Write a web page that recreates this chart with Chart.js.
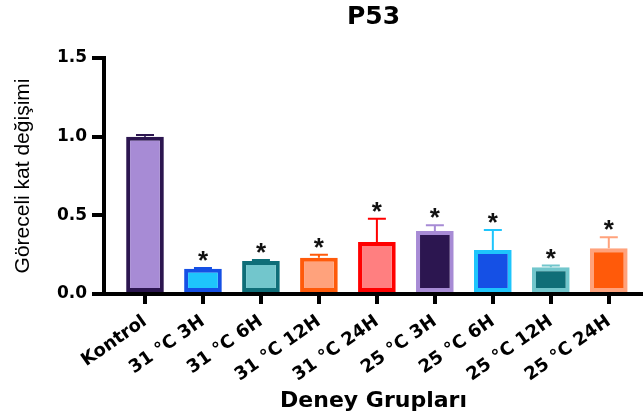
<!DOCTYPE html>
<html>
<head>
<meta charset="utf-8">
<script src="https://cdn.jsdelivr.net/npm/chart.js"></script>
<style>
  html, body { margin: 0; padding: 0; background: #fff; }
  #wrap { width: 643px; height: 415px; }
</style>
</head>
<body>
<div id="wrap"><canvas id="chart" width="643" height="415"></canvas></div>
<script>
// Values
const groups = ['Kontrol', '31 °C 3H', '31 °C 6H', '31 °C 12H', '31 °C 24H',
                '25 °C 3H', '25 °C 6H', '25 °C 12H', '25 °C 24H'];
const means = [1.0, 0.16, 0.21, 0.23, 0.33, 0.40, 0.28, 0.17, 0.29];
const errors = [0.01, 0.005, 0.006, 0.02, 0.148, 0.037, 0.127, 0.011, 0.07];
const significant = [false, true, true, true, true, true, true, true, true];
const yTicks = [0, 0.5, 1.0, 1.5];

const fills = ['#A78BD5', '#1EC5FC', '#72C6CC', '#FFA27C', '#FF7F80',
               '#2C1650', '#1550E5', '#0F6E78', '#FF5A0A'];
const edges = ['#2C1650', '#1550E5', '#0F6E78', '#FF5A0A', '#FF0000',
               '#A78BD5', '#1EC5FC', '#72C6CC', '#FFA27C'];

// error bars (upper only) and the significance stars
const errorBars = {
    id: 'errorBars',
    afterDatasetsDraw(chart) {
        const ctx = chart.ctx;
        const y = chart.scales.y;
        const meta = chart.getDatasetMeta(0);
        ctx.save();
        meta.data.forEach((bar, i) => {
            const top = y.getPixelForValue(means[i]);
            const up = y.getPixelForValue(means[i] + errors[i]);
            ctx.strokeStyle = edges[i];
            ctx.lineWidth = 2;
            ctx.beginPath();
            ctx.moveTo(bar.x, top);
            ctx.lineTo(bar.x, up);
            ctx.moveTo(bar.x - 9, up);
            ctx.lineTo(bar.x + 9, up);
            ctx.stroke();

            if (significant[i]) {
                ctx.fillStyle = '#111';
                ctx.font = 'bold 26px "Liberation Sans"';
                ctx.textAlign = 'center';
                ctx.textBaseline = 'alphabetic';
                const m = ctx.measureText('*');
                const target = up - 12;
                const base = target + (m.actualBoundingBoxAscent - m.actualBoundingBoxDescent) / 2;
                ctx.fillText('*', bar.x, base);
            }
        });
        ctx.restore();
    }
};

new Chart(document.getElementById('chart'), {
    type: 'bar',
    data: {
        datasets: [{
            data: means.map((v, i) => ({ x: i, y: v })),
            backgroundColor: fills,
            borderColor: edges,
            borderWidth: 4,
            borderSkipped: false,
            barPercentage: 0.65,
            categoryPercentage: 1
        }]
    },
    options: {
        responsive: false,
        animation: false,
        devicePixelRatio: 1,
        layout: { padding: 0 },
        plugins: {
            legend: { display: false },
            tooltip: { enabled: false },
            title: {
                display: true,
                text: 'P53',
                fullSize: false,
                color: '#000',
                font: { family: 'DejaVu Sans', weight: 'bold', size: 25 },
                padding: { top: 2, bottom: 26 }
            }
        },
        scales: {
            x: {
                type: 'linear',
                min: -0.707,
                max: 8.59,
                offset: false,
                z: 1,
                border: { display: true, color: '#000', width: 4 },
                grid: { offset: false, drawOnChartArea: false, drawTicks: true, tickLength: 10, lineWidth: 4, color: '#000' },
                afterBuildTicks: s => { s.ticks = groups.map((g, i) => ({ value: i })); },
                ticks: {
                    autoSkip: false,
                    includeBounds: false,
                    stepSize: 1,
                    minRotation: 35,
                    maxRotation: 35,
                    padding: 7,
                    color: '#000',
                    font: { family: 'DejaVu Sans', weight: 'bold', size: 18 },
                    callback: v => groups[v] ?? ''
                },
                title: {
                    display: true,
                    text: 'Deney Grupları',
                    color: '#000',
                    font: { family: 'DejaVu Sans', weight: 'bold', size: 22 },
                    padding: { top: 0, bottom: 1 }
                },
                afterFit: s => { s.height = 121; s.paddingLeft = 0; s.paddingRight = 0; }
            },
            y: {
                min: 0,
                max: 1.5,
                border: { display: true, color: '#000', width: 4 },
                grid: { drawOnChartArea: false, drawTicks: true, tickLength: 12, lineWidth: 4, color: '#000' },
                afterBuildTicks: s => { s.ticks = yTicks.map(v => ({ value: v })); },
                ticks: {
                    padding: 5,
                    color: '#000',
                    font: { family: 'DejaVu Sans', weight: 'bold', size: 17 },
                    callback: v => v.toFixed(1)
                },
                title: {
                    display: true,
                    text: 'Göreceli kat değişimi',
                    color: '#000',
                    font: { family: 'Liberation Sans', size: 21 },
                    padding: { top: 11, bottom: 0 }
                },
                afterFit: s => { s.width = 104; s.paddingTop = 0; s.paddingBottom = 0; }
            }
        }
    },
    plugins: [errorBars]
});
</script>
</body>
</html>
